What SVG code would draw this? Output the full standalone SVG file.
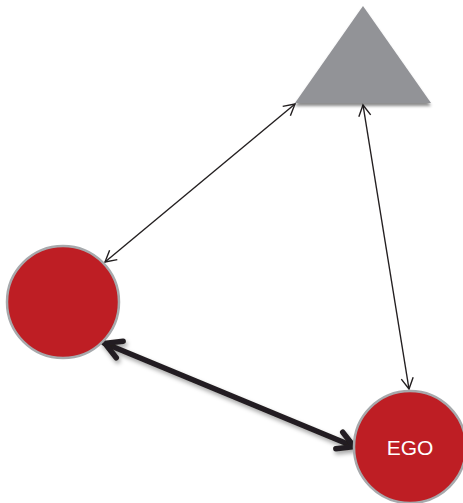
<svg xmlns="http://www.w3.org/2000/svg" width="463" height="503" viewBox="0 0 463 503">
  <style>
    .node { fill: #be1e24; stroke: #a7a9ac; stroke-width: 2.5; }
    .tri { fill: #929397; }
    .thin { fill: none; stroke: #231f20; stroke-width: 1.4; }
    .thick { fill: none; stroke: #231f20; stroke-width: 5.5; stroke-linecap: round; }
    .label { font-family: "Liberation Sans", Arial, sans-serif; font-size: 21px; fill: #ffffff; }
  </style>
  <defs>
    <marker id="openThin" viewBox="-14 -8 16 16" markerWidth="16" markerHeight="16" refX="0" refY="0" orient="auto-start-reverse" markerUnits="userSpaceOnUse">
      <path d="M-11,-6 L0,0 L-11,6" fill="none" stroke="#231f20" stroke-width="1.4" stroke-linejoin="miter"/>
    </marker>
    <marker id="openThick" viewBox="-22 -13 26 26" markerWidth="26" markerHeight="26" refX="0" refY="0" orient="auto-start-reverse" markerUnits="userSpaceOnUse">
      <path d="M-17,-9 L-1,0 L-17,9" fill="none" stroke="#231f20" stroke-width="5.5" stroke-linecap="round" stroke-linejoin="miter"/>
    </marker>
    <filter id="shadow" x="-20%" y="-20%" width="140%" height="160%">
      <feDropShadow dx="1.5" dy="3" stdDeviation="2" flood-color="#000000" flood-opacity="0.35"/>
    </filter>
    <filter id="triShadow" x="-10%" y="-10%" width="120%" height="130%">
      <feDropShadow dx="0" dy="3" stdDeviation="1.5" flood-color="#000000" flood-opacity="0.45"/>
    </filter>
  </defs>

  <g id="connectors">
    <line class="thin" x1="295" y1="104" x2="105" y2="262" marker-start="url(#openThin)" marker-end="url(#openThin)"/>
    <line class="thin" x1="363" y1="105" x2="409" y2="389" marker-start="url(#openThin)" marker-end="url(#openThin)"/>
    <g filter="url(#shadow)">
      <line class="thick" x1="104" y1="343" x2="355" y2="447" marker-start="url(#openThick)" marker-end="url(#openThick)"/>
    </g>
  </g>

  <g id="triangle">
    <polygon class="tri" points="363,6 431,103 295,103" filter="url(#triShadow)"/>
  </g>

  <g id="alter">
    <circle class="node" cx="63" cy="302" r="56"/>
  </g>

  <g id="ego">
    <circle class="node" cx="410" cy="447" r="56"/>
    <text class="label" x="410" y="455" text-anchor="middle">EGO</text>
  </g>
</svg>
